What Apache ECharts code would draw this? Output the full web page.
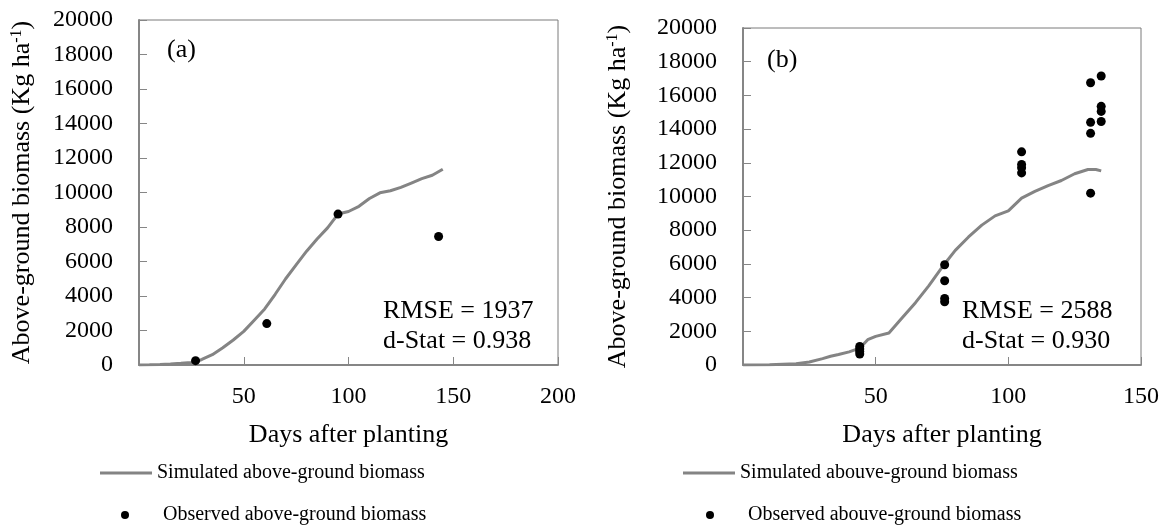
<!DOCTYPE html>
<html>
<head>
<meta charset="utf-8">
<script src="https://cdn.jsdelivr.net/npm/echarts@6/dist/echarts.min.js"></script>
<style>
  html, body { margin: 0; padding: 0; background: #fff; }
  #chart { width: 1169px; height: 530px; }
</style>
</head>
<body>
<div id="chart"></div>
<script>
// Panel (a): simulated curve and observations
const dayA = [0, 5, 10, 15, 20, 25, 28, 30, 35, 40, 45, 50, 55, 60, 65, 70, 75, 80, 85, 90, 95, 100, 105, 110, 115, 120, 125, 130, 135, 140, 145];
const simA = [0, 10, 30, 60, 100, 150, 230, 320, 600, 1000, 1450, 1950, 2600, 3250, 4100, 5000, 5800, 6600, 7300, 7950, 8750, 8900, 9200, 9650, 9980, 10100, 10300, 10550, 10800, 11000, 11350];
const obsDayA = [27, 61, 95, 143];
const obsA = [250, 2400, 8750, 7450];

// Panel (b): simulated curve and observations
const dayB = [0, 10, 20, 25, 30, 33, 36, 40, 44, 47, 50, 55, 60, 65, 70, 75, 80, 85, 90, 95, 100, 105, 110, 115, 120, 125, 130, 133, 135];
const simB = [0, 20, 80, 180, 380, 520, 620, 780, 1000, 1500, 1700, 1900, 2800, 3700, 4700, 5800, 6800, 7600, 8300, 8850, 9150, 9900, 10300, 10650, 10950, 11350, 11600, 11600, 11520];
const obsDayB = [44, 44, 44, 44, 76, 76, 76, 76, 105, 105, 105, 105, 131, 131, 131, 131, 135, 135, 135, 135];
const obsB = [650, 800, 950, 1100, 5950, 5000, 3950, 3750, 12650, 11900, 11700, 11400, 16750, 14400, 13750, 10200, 17150, 15350, 15050, 14450];

const namesA = ['Simulated above-ground biomass', 'Observed above-ground biomass'];
const namesB = ['Simulated abouve-ground biomass', 'Observed abouve-ground biomass'];
const statsA = ['RMSE = 1937', 'd-Stat = 0.938'];
const statsB = ['RMSE = 2588', 'd-Stat = 0.930'];
const xMaxA = 200, xMaxB = 150;

const FONT = '"Liberation Serif", "Times New Roman", serif';
const AXIS_GRAY = '#868686';
const LINE_GRAY = '#848484';

const pairs = (xs, ys) => xs.map((x, i) => [x, ys[i]]);

function xAxis(gridIndex, max) {
  return {
    type: 'value', gridIndex, min: 0, max, interval: 50,
    name: 'Days after planting', nameLocation: 'middle', nameGap: 57,
    nameTextStyle: { fontFamily: FONT, fontSize: 26, color: '#000' },
    axisLine: { show: true, lineStyle: { color: AXIS_GRAY, width: 2 } },
    axisTick: { show: true, inside: true, length: 8, lineStyle: { color: AXIS_GRAY, width: 1 } },
    axisLabel: { fontFamily: FONT, fontSize: 24, color: '#000', margin: 20,
      formatter: v => (v === 0 ? '' : String(v)) },
    splitLine: { show: false }
  };
}

function yAxis(gridIndex, gap) {
  return {
    type: 'value', gridIndex, min: 0, max: 20000, interval: 2000,
    name: '{t|Above-ground biomass (Kg ha}{s|-1}{t|)}',
    nameLocation: 'middle', nameGap: gap,
    nameTextStyle: {
      fontFamily: FONT, fontSize: 26, color: '#000',
      rich: {
        t: { fontFamily: FONT, fontSize: 26, color: '#000' },
        s: { fontFamily: FONT, fontSize: 16, color: '#000', verticalAlign: 'top' }
      }
    },
    axisLine: { show: true, lineStyle: { color: AXIS_GRAY, width: 2 } },
    axisTick: { show: true, inside: true, length: 8, lineStyle: { color: AXIS_GRAY, width: 1 } },
    axisLabel: { fontFamily: FONT, fontSize: 24, color: '#000', margin: 26, formatter: v => String(v) },
    splitLine: { show: false }
  };
}

function lineSeries(name, idx, xs, ys) {
  return {
    name, type: 'line', xAxisIndex: idx, yAxisIndex: idx,
    data: pairs(xs, ys), symbol: 'none', smooth: false,
    lineStyle: { color: LINE_GRAY, width: 3 }, itemStyle: { color: LINE_GRAY },
    z: 2, animation: false
  };
}

function dotSeries(name, idx, xs, ys) {
  return {
    name, type: 'scatter', xAxisIndex: idx, yAxisIndex: idx,
    data: pairs(xs, ys), symbol: 'circle', symbolSize: 9,
    itemStyle: { color: '#000', opacity: 1 }, z: 3, animation: false
  };
}

function legendPair(names, lineLeft, dotLeft, textLeftGap) {
  return [
    { data: [{ name: names[0], icon: 'rect' }], left: lineLeft, top: 462, padding: 0, itemWidth: 52, itemHeight: 3,
      selectedMode: false, itemStyle: { color: LINE_GRAY, opacity: 1 },
      textStyle: { fontFamily: FONT, fontSize: 20, color: '#000', lineHeight: 22 } },
    { data: [{ name: names[1], icon: 'circle' }], left: dotLeft, top: 504, padding: 0, itemWidth: 8, itemHeight: 8,
      selectedMode: false, itemStyle: { color: '#000', opacity: 1 },
      textStyle: { fontFamily: FONT, fontSize: 20, color: '#000', lineHeight: 22, padding: [0, 0, 0, textLeftGap] } }
  ];
}

function label(text, x, y, size) {
  return { type: 'text', x, y, silent: true,
    style: { text, font: size + 'px ' + FONT, fill: '#000', verticalAlign: 'middle', align: 'left' } };
}

const chart = echarts.init(document.getElementById('chart'), null, { renderer: 'canvas' });
chart.setOption({
  animation: false,
  backgroundColor: '#fff',
  grid: [
    { left: 139, top: 20, width: 419, height: 345, show: true, borderColor: '#7a7a7a', borderWidth: 1, containLabel: false },
    { left: 743, top: 28, width: 398, height: 337, show: true, borderColor: '#7a7a7a', borderWidth: 1, containLabel: false }
  ],
  xAxis: [xAxis(0, xMaxA), xAxis(1, xMaxB)],
  yAxis: [yAxis(0, 104), yAxis(1, 112)],
  legend: [...legendPair(namesA, 100, 121, 29), ...legendPair(namesB, 683, 706, 29)],
  series: [
    lineSeries(namesA[0], 0, dayA, simA),
    dotSeries(namesA[1], 0, obsDayA, obsA),
    lineSeries(namesB[0], 1, dayB, simB),
    dotSeries(namesB[1], 1, obsDayB, obsB)
  ],
  graphic: [
    label('(a)', 167, 50, 26),
    label(statsA[0], 383, 311, 26),
    label(statsA[1], 383, 341, 26),
    label('(b)', 767, 60, 26),
    label(statsB[0], 962, 311, 26),
    label(statsB[1], 962, 341, 26)
  ]
});
</script>
</body>
</html>
